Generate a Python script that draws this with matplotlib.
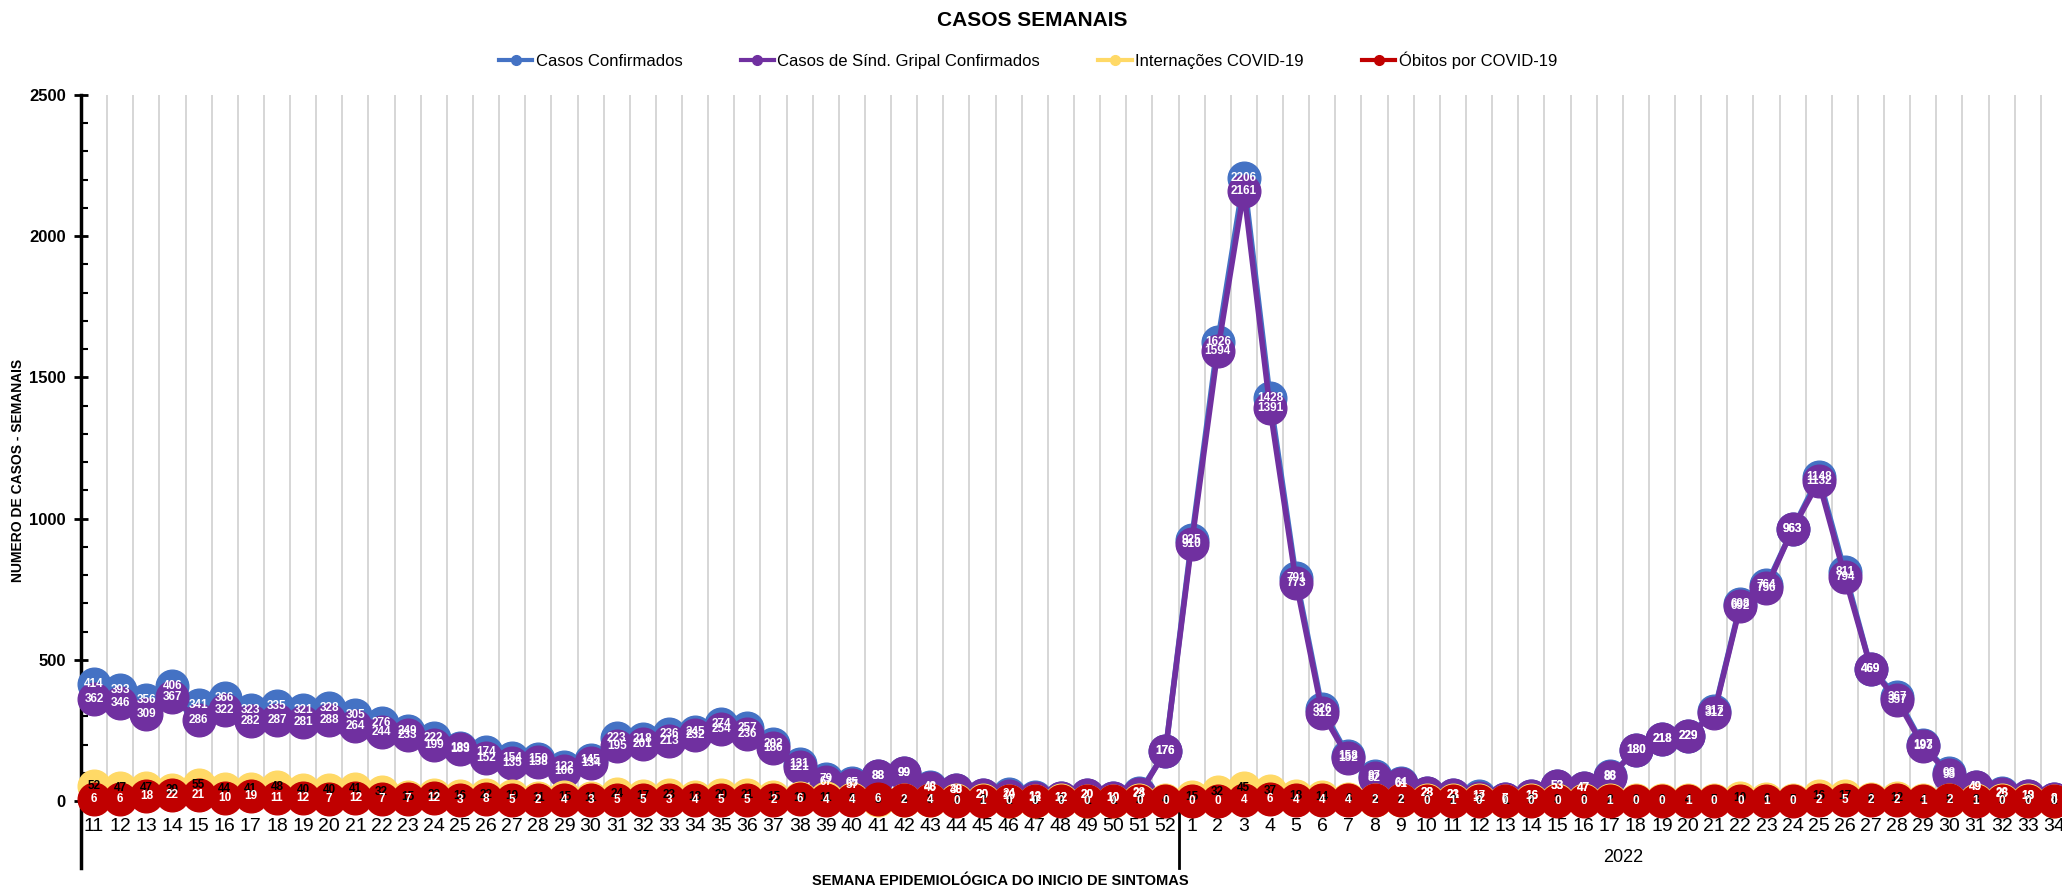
import numpy as np
import matplotlib.pyplot as plt
from matplotlib.lines import Line2D
from matplotlib.ticker import MultipleLocator
from matplotlib.transforms import blended_transform_factory

plt.rcParams['font.family'] = ['Liberation Sans Narrow', 'Liberation Sans', 'DejaVu Sans']

# semanas epidemiologicas (2021: 11-52, 2022: 1-34)
semanas_2021 = list(range(11, 53))
semanas_2022 = list(range(1, 35))
rotulos = semanas_2021 + semanas_2022

casos_confirmados = [414, 393, 356, 406, 341, 366, 323, 335, 321, 328,
                     305, 276, 249, 222, 189, 174, 154, 150, 122, 145,
                     223, 218, 236, 245, 274, 257, 202, 131, 79, 65,
                     88, 99, 48, 40, 20, 24, 13, 12, 20, 10, 28, 176,
                     925, 1626, 2206, 1428, 791, 326, 158, 87, 64, 28,
                     23, 17, 7, 16, 53, 47, 88, 180, 218, 229,
                     317, 698, 764, 963, 1148, 811, 469, 367, 197, 98,
                     49, 28, 19, 8]

casos_sg = [362, 346, 309, 367, 286, 322, 282, 287, 281, 288,
            264, 244, 233, 199, 183, 152, 135, 138, 106, 134,
            195, 201, 213, 232, 254, 236, 186, 121, 67, 57,
            88, 99, 46, 38, 20, 19, 12, 12, 20, 10, 24, 176,
            910, 1594, 2161, 1391, 773, 312, 152, 82, 61, 28,
            21, 12, 6, 16, 53, 47, 86, 180, 218, 229,
            312, 692, 756, 963, 1132, 794, 469, 357, 193, 93,
            49, 26, 18, 8]

internacoes = [52, 47, 47, 39, 55, 44, 41, 48, 40, 40,
               41, 32, 15, 22, 16, 22, 19, 11, 15, 11,
               24, 17, 23, 13, 20, 21, 15, 10, 11, 8,
               5, 4, 3, 2, 2, 1, 1, 2, 1, 1, 2, 4,
               15, 32, 45, 37, 18, 14, 6, 5, 4, 3,
               2, 2, 1, 2, 3, 3, 2, 2, 3, 4,
               5, 10, 6, 5, 16, 17, 6, 12, 4, 5,
               3, 2, 2, 1]

obitos = [6, 6, 18, 22, 21, 10, 19, 11, 12, 7,
          12, 7, 7, 12, 3, 8, 5, 2, 4, 3,
          5, 5, 3, 4, 5, 5, 2, 6, 4, 4,
          6, 2, 4, 0, 1, 0, 0, 0, 0, 0, 0, 0,
          0, 0, 4, 6, 4, 4, 4, 2, 2, 0,
          1, 0, 0, 0, 0, 0, 1, 0, 0, 1,
          0, 0, 1, 0, 2, 5, 2, 2, 1, 2,
          1, 0, 0, 0]

nomes = ['Casos Confirmados', 'Casos de Sínd. Gripal Confirmados',
         'Internações COVID-19', 'Óbitos por COVID-19']
cores = ['#4472C4', '#7030A0', '#FFD966', '#C00000']
cores_txt = ['white', 'white', 'black', 'white']

W, H = 2062, 890
fig = plt.figure(figsize=(W / 100, H / 100), dpi=100)
ax = fig.add_axes([81 / W, 89 / H, 1986 / W, 706 / H])

x = np.arange(len(rotulos))
series = [casos_confirmados, casos_sg, internacoes, obitos]

for i, vals in enumerate(series):
    ax.plot(x, vals, color=cores[i], lw=4, marker='o', ms=23.5,
            mfc=cores[i], mec=cores[i], clip_on=False, zorder=3 + i)
for i, vals in enumerate(series):
    for xi, v in zip(x, vals):
        ax.text(xi, v, str(v), ha='center', va='center', color=cores_txt[i],
                fontsize=8.5, fontweight='bold', zorder=10 + i, clip_on=False)

ax.set_xlim(-0.5, len(rotulos) - 0.5)
ax.set_ylim(0, 2500)
ax.set_xticks(x)
ax.set_xticklabels(rotulos, fontsize=14)
ax.set_xticks(np.arange(-0.5, len(rotulos), 1), minor=True)
ax.tick_params(axis='x', which='both', length=0, pad=12)
ax.grid(axis='x', which='minor', color='#D0D0D0', lw=1.2, zorder=0)

ax.yaxis.set_major_locator(MultipleLocator(500))
ax.yaxis.set_minor_locator(MultipleLocator(100))
ax.tick_params(axis='y', which='major', direction='inout', length=10, width=2, labelsize=12, pad=6)
ax.tick_params(axis='y', which='minor', direction='in', length=5, width=1.5)
for lb in ax.get_yticklabels():
    lb.set_fontweight('bold')

for s in ['top', 'right', 'bottom']:
    ax.spines[s].set_visible(False)
ax.spines['left'].set_linewidth(2.5)

# linhas da categoria (eixo multi-nivel)
trans = blended_transform_factory(ax.transData, ax.transAxes)
ax.plot([-0.5, -0.5], [0, -0.095], transform=trans, color='black', lw=2.5, clip_on=False)
ax.plot([41.5, 41.5], [0, -0.095], transform=trans, color='black', lw=2, clip_on=False)

fig.text(1032 / W, 1 - 20 / H, 'CASOS SEMANAIS', ha='center', va='center',
         fontsize=15, fontweight='bold')
fig.text(18 / W, 1 - 470 / H, 'NUMERO DE CASOS - SEMANAIS', rotation=90,
         ha='center', va='center', fontsize=10, fontweight='bold')
fig.text(1000 / W, 1 - 881 / H, 'SEMANA EPIDEMIOLÓGICA DO INICIO DE SINTOMAS',
         ha='center', va='center', fontsize=10.5, fontweight='bold')
fig.text(1623 / W, 1 - 857 / H, '2022', ha='center', va='center', fontsize=13)

handles = [Line2D([0], [0], color=c, lw=3, marker='o', ms=7) for c in cores]
fig.legend(handles, nomes, loc='center', bbox_to_anchor=(1028 / W, 1 - 60 / H),
           ncol=4, frameon=False, fontsize=12, handlelength=2,
           handletextpad=0.2, columnspacing=3.5)

fig.savefig('out.png', dpi=100)
